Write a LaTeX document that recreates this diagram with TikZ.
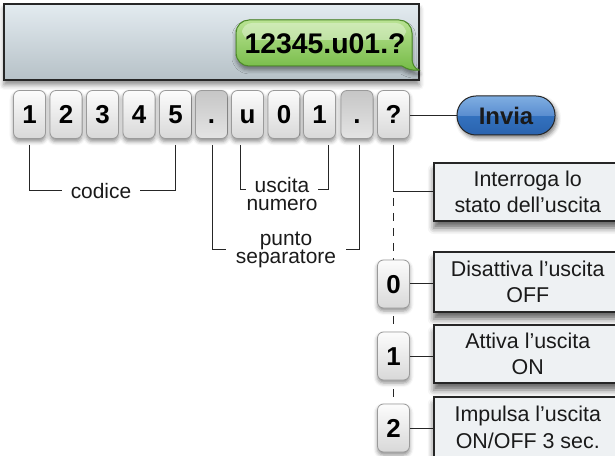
\documentclass[tikz,border=0pt]{standalone}
\usepackage{fontspec}
\setmainfont{Liberation Sans}
\usetikzlibrary{shadows.blur,calc}
\definecolor{scrtop}{HTML}{E3EBF0}
\definecolor{scrbot}{HTML}{B6C1C7}
\definecolor{darkline}{HTML}{262626}
\definecolor{keytop}{HTML}{FCFCFC}
\definecolor{keybot}{HTML}{D8D8D8}
\definecolor{keyborder}{HTML}{9A9A9A}
\definecolor{dottop}{HTML}{C6C6C6}
\definecolor{dotbot}{HTML}{E4E4E4}
\definecolor{boxfill}{HTML}{EEF1F3}
\definecolor{greentop}{HTML}{B9E393}
\definecolor{greenbot}{HTML}{74BA45}
\definecolor{greenborder}{HTML}{4E8B2A}
\definecolor{bluetop}{HTML}{7FAEE2}
\definecolor{bluemid}{HTML}{5B8ED0}
\definecolor{bluelow}{HTML}{3371BE}
\definecolor{bluebot}{HTML}{2A63AE}
\definecolor{txt}{HTML}{1A1A1A}
\pgfdeclareverticalshading{inviashade}{100bp}{color(0bp)=(bluebot); color(25bp)=(bluebot); color(49.5bp)=(bluelow); color(50.5bp)=(bluemid); color(75bp)=(bluetop); color(100bp)=(bluetop)}
\begin{document}
\begin{tikzpicture}[x=1bp,y=-1bp,
  keybox/.style={draw=keyborder, line width=0.8bp, rounded corners=6bp,
    minimum width=32bp, minimum height=48bp, inner sep=0pt,
    text height=18.5bp, text depth=0bp,
    top color=keytop, bottom color=keybot, text=black,
    font=\fontsize{26}{28}\selectfont\bfseries,
    blur shadow={shadow xshift=0bp, shadow yshift=-3bp, shadow blur radius=4bp, shadow opacity=45}},
  dotkey/.style={keybox, top color=dottop, bottom color=dotbot},
  infobox/.style={draw=darkline, line width=1.5bp, fill=boxfill, anchor=west,
    minimum width=188bp, align=center, text=txt,
    font=\fontsize{21.5}{26.5}\selectfont,
    blur shadow={shadow xshift=0bp, shadow yshift=-7bp, shadow blur radius=6bp, shadow opacity=60}},
  lbl/.style={text=txt, align=center, inner ysep=0pt, font=\fontsize{21}{18.5}\selectfont},
  brk/.style={draw=darkline, line width=1bp},
  dashline/.style={draw=darkline, line width=1.2bp, dash pattern=on 8bp off 7bp, dash phase=9bp}
]
\useasboundingbox (0,0) rectangle (615,456);
% screen
\node[draw=darkline, line width=1.6bp, top color=scrtop, bottom color=scrbot,
  minimum width=415bp, minimum height=76bp, inner sep=0pt,
  blur shadow={shadow xshift=0bp, shadow yshift=-5bp, shadow blur radius=5bp, shadow opacity=45}]
  (screen) at (211.5,42) {};
% bubble
\filldraw[draw=greenborder, line width=1bp, top color=greentop, bottom color=greenbot,
  blur shadow={shadow xshift=0bp, shadow yshift=-4bp, shadow blur radius=4bp, shadow opacity=45}]
  [rounded corners=13bp] (236,43) -- (236,20) -- (412,20) -- (412,48)
  [sharp corners] -- (412,58) .. controls (412,64) and (414,68) .. (419,70)
  .. controls (412,71) and (407,69) .. (402,66)
  [rounded corners=13bp] -- (236,66) -- cycle;
\fill[white, opacity=0.35, rounded corners=10bp] (242,23) rectangle (406,40);
\node[text=black, font=\fontsize{28.5}{30}\selectfont\bfseries, inner sep=0pt] (bubble) at (325,44) {12345.u01.?};
% keys
\node[keybox] (k1) at (29.5,114.5) {1};
\node[keybox] (k2) at (66,114.5) {2};
\node[keybox] (k3) at (102.5,114.5) {3};
\node[keybox] (k4) at (139,114.5) {4};
\node[keybox] (k5) at (175.5,114.5) {5};
\node[dotkey] (k6) at (211.5,114.5) {.};
\node[keybox] (k7) at (247.5,114.5) {u};
\node[keybox] (k8) at (284,114.5) {0};
\node[keybox] (k9) at (319.5,114.5) {1};
\node[dotkey] (k10) at (357,114.5) {.};
\node[keybox] (k11) at (393.5,114.5) {?};
% invia
\node[draw=darkline, line width=1bp, shading=inviashade, rounded corners=19bp,
  minimum width=98bp, minimum height=39bp, inner sep=0pt, text=txt,
  font=\fontsize{24}{26}\selectfont\bfseries,
  blur shadow={shadow xshift=2bp, shadow yshift=-3bp, shadow blur radius=4bp, shadow opacity=50}]
  (inv) at (506,115.5) {Invia};
\draw[brk] (inv.west) -- (inv.west -| k11.east);
% labels under keys
\node[lbl, inner xsep=8.5bp] (cod) at (101,191) {codice};
\draw[brk] ([yshift=-6bp]k1.south) |- (cod.west);
\draw[brk] ([yshift=-6bp]k5.south) |- (cod.east);
\node[lbl, inner xsep=0.5bp] (usc) at (282,194) {uscita\\numero};
\draw[brk] ([xshift=-7.5bp,yshift=-6bp]k7.south) |- ([yshift=4bp]usc.west);
\draw[brk] ([xshift=8.5bp,yshift=-6bp]k9.south) |- ([yshift=4bp]usc.east);
\node[lbl, inner xsep=10bp] (pun) at (286,250) {punto\\separatore};
\draw[brk] ([xshift=0.5bp,yshift=-6bp]k6.south) |- (pun.west);
\draw[brk] ([xshift=2.5bp,yshift=-6bp]k10.south) |- (pun.east);
% right column
\node[infobox, minimum height=58bp] (q) at (433,192) {Interroga lo\\stato dell’uscita};
\draw[brk] ([yshift=-6bp]k11.south) |- (q.west);
\coordinate (jq) at (k11.south |- q.west);
\node[keybox] (r0) at (393.5,284) {0};
\node[keybox] (r1) at (393.5,356) {1};
\node[keybox] (r2) at (393.5,428) {2};
\draw[dashline] (jq) -- (r0.north);
\draw[brk, line width=1.2bp] ([yshift=-8bp]r0.south) -- ([yshift=8bp]r1.north);
\draw[brk, line width=1.2bp] ([yshift=-9bp]r1.south) -- ([yshift=7bp]r2.north);
\node[infobox, minimum height=60bp] (d) at (433,282) {Disattiva l’uscita\\OFF};
\node[infobox, minimum height=58bp] (a) at (433,354) {Attiva l’uscita\\ON};
\node[infobox, minimum height=61bp] (im) at (433,427.5) {Impulsa l’uscita\\ON/OFF 3 sec.};
\draw[brk] (r0.east) -- (r0.east -| d.west);
\draw[brk] (r1.east) -- (r1.east -| a.west);
\draw[brk] (r2.east) -- (r2.east -| im.west);
\end{tikzpicture}
\end{document}
